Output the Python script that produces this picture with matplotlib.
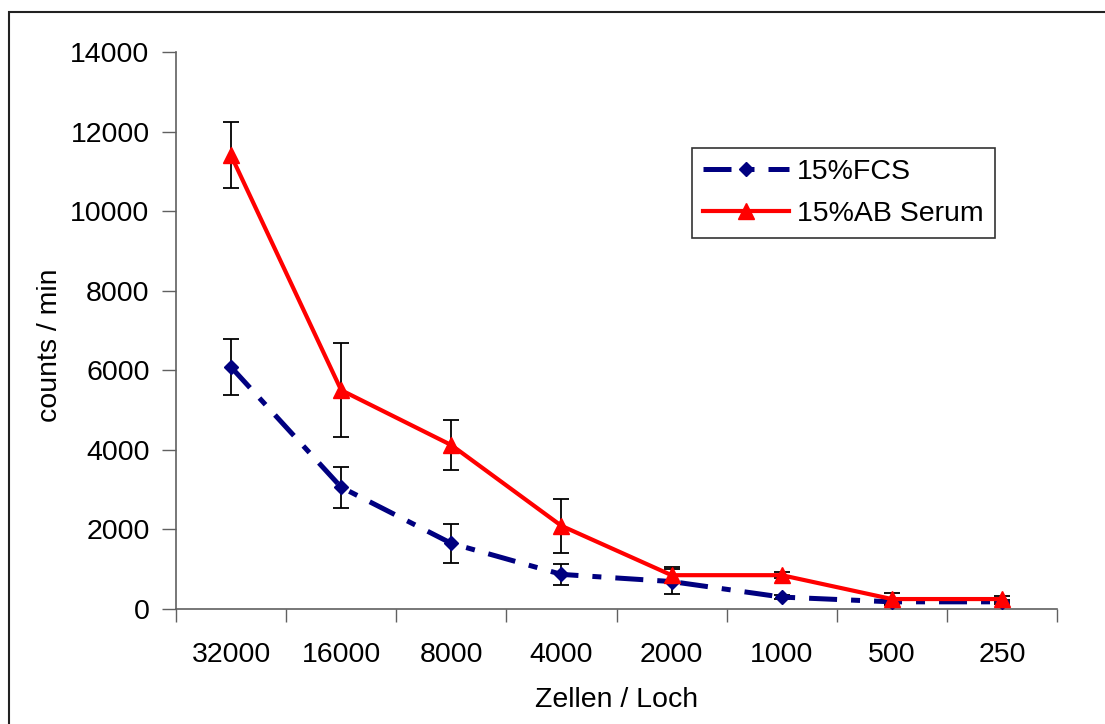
import matplotlib
matplotlib.use('Agg')
import matplotlib.pyplot as plt
from matplotlib.patches import Rectangle
import numpy as np

plt.rcParams['font.family'] = ['Liberation Sans', 'DejaVu Sans']

# Daten
zellen = ['32000', '16000', '8000', '4000', '2000', '1000', '500', '250']
fcs = [6080, 3060, 1650, 870, 690, 300, 180, 180]
fcs_err = [700, 520, 490, 270, 320, 40, 50, 50]
ab_serum = [11400, 5500, 4120, 2090, 850, 850, 250, 250]
ab_err = [830, 1180, 630, 680, 200, 75, 150, 80]

fs = 20.5

fig = plt.figure(figsize=(11.05, 7.24), dpi=100)
ax = fig.add_axes([176/1105, 1 - 609/724, (1057 - 176)/1105, (609 - 52)/724])

x = np.arange(len(zellen))

# Fehlerbalken zuerst (liegen unter den Linien)
ax.errorbar(x, fcs, yerr=fcs_err, fmt='none', ecolor='black', elinewidth=1.3,
            capsize=6, capthick=1.3, zorder=2)
ax.errorbar(x, ab_serum, yerr=ab_err, fmt='none', ecolor='black', elinewidth=1.3,
            capsize=6, capthick=1.3, zorder=2)

ax.plot(x, fcs, color='#000080', linewidth=3.6, linestyle=(0, (5.6, 2.8, 1.8, 2.8)),
        marker='D', markersize=7, label='15%FCS', zorder=3)
ax.plot(x, ab_serum, color='#ff0000', linewidth=3.0, marker='^', markersize=11,
        label='15%AB Serum', zorder=4)

ax.set_xlim(-0.5, len(zellen) - 0.5)
ax.set_ylim(0, 14000)
ax.set_yticks(np.arange(0, 14001, 2000))

# Striche an den Kategoriegrenzen, Beschriftung in der Mitte
ax.set_xticks(np.arange(-0.5, len(zellen)), labels=[''] * (len(zellen) + 1))
ax.set_xticks(x, labels=zellen, minor=True)
ax.tick_params(axis='x', which='minor', length=0, pad=24, labelsize=fs)
ax.tick_params(axis='x', which='major', length=9, width=1, color='#606060', direction='out')
ax.tick_params(axis='y', length=10, width=1, color='#606060', direction='out', pad=9, labelsize=fs)

for side in ['top', 'right']:
    ax.spines[side].set_visible(False)
for side in ['left', 'bottom']:
    ax.spines[side].set_color('#606060')
    ax.spines[side].set_linewidth(1.2)

ax.set_xlabel('Zellen / Loch', fontsize=fs)
ax.xaxis.set_label_coords(0.5, -0.14)
ax.set_ylabel('counts / min', fontsize=fs)
ax.yaxis.set_label_coords(-0.128, 0.474)

leg = ax.legend(loc='upper left', bbox_to_anchor=(692/1105, 1 - 148/724),
                bbox_transform=fig.transFigure, fontsize=fs, frameon=True,
                fancybox=False, edgecolor='black', handlelength=3.0,
                handletextpad=0.3, borderpad=0.4, labelspacing=0.55,
                borderaxespad=0)
leg.get_frame().set_linewidth(1.2)

# Rahmen um das Diagramm (Excel-Stil)
fig.add_artist(Rectangle((9/1105, -0.05), 1.2, 1.05 - 12/724, transform=fig.transFigure,
                         fill=False, edgecolor='#222222', linewidth=1.5, clip_on=False))

fig.savefig('out.png', dpi=100)
